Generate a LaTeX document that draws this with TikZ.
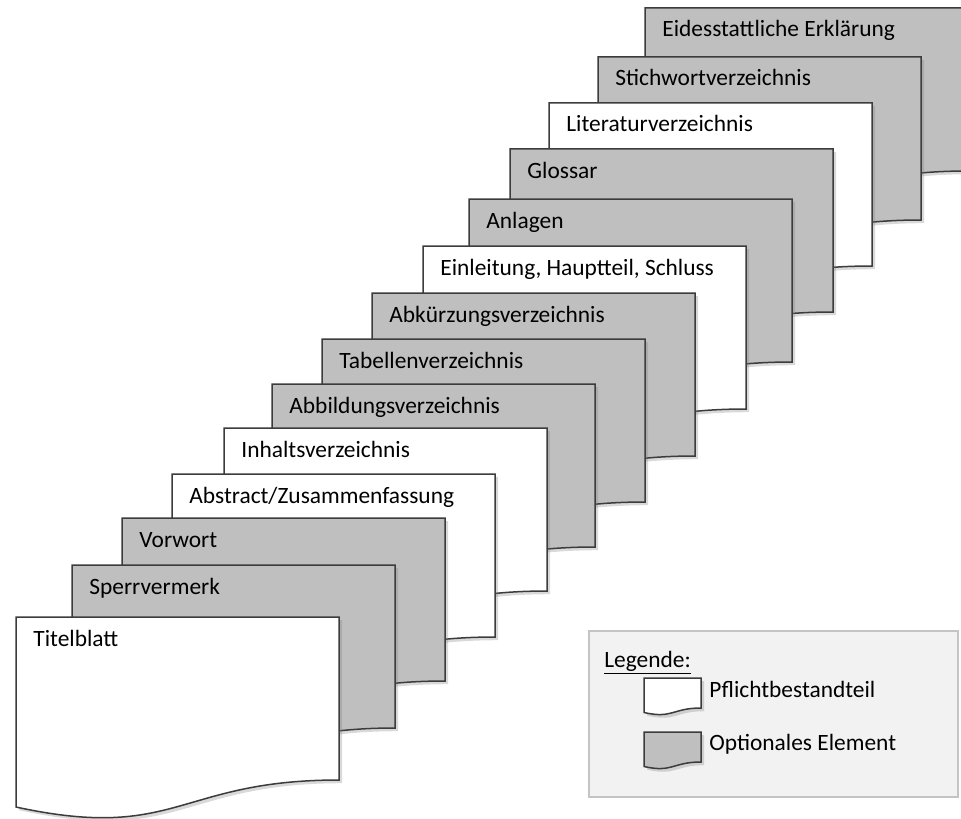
\documentclass[tikz,border=0pt]{standalone}
\usepackage{fontspec}
\setmainfont{Carlito}
\usetikzlibrary{shadows}
\definecolor{optgray}{HTML}{BFBFBF}
\definecolor{edgegray}{HTML}{3C3C3C}
\definecolor{legendfill}{HTML}{F2F2F2}
\definecolor{legendedge}{HTML}{C4C4C4}
\tikzset{x=0.5pt, y=0.5pt}
\tikzset{page/.style={draw=edgegray, line width=0.75pt,
    drop shadow={opacity=0.3, shadow xshift=1.6pt, shadow yshift=-1.6pt}}}
\tikzset{lbl/.style={anchor=base west, inner sep=0pt, font=\fontsize{11.7}{13}\selectfont}}
\tikzset{pics/sheet/.style n args={2}{code={
    \draw[page, fill=#1] (0,0) -- (323,0) -- (323,-163)
      .. controls (161.5,-163) and (161.5,-225) .. (0,-190) -- cycle;
    \node[lbl] (-txt) at (17,-29) {#2};
}}}
\tikzset{pics/key/.style={code={
    \draw[page, fill=#1] (0,0) -- (57,0) -- (57,-30)
      .. controls (28.5,-30) and (28.5,-41) .. (0,-34.5) -- cycle;
}}}
\tikzstyle{legendbox}=[draw=legendedge, fill=legendfill, line width=0.6pt, inner sep=0pt, minimum width=184.5pt, minimum height=83pt]

\begin{document}
\begin{tikzpicture}
  \clip (0,0) rectangle (961,-818);

  \pic (s_14) at (645,-8)   {sheet={optgray}{Eidesstattliche Erklärung}};
  \pic (s_13) at (598,-57)  {sheet={optgray}{Stichwortverzeichnis}};
  \pic (s_12) at (549,-103) {sheet={white}{Literaturverzeichnis}};
  \pic (s_11) at (510,-149) {sheet={optgray}{Glossar}};
  \pic (s_10) at (469,-199) {sheet={optgray}{Anlagen}};
  \pic (s_9)  at (423,-246) {sheet={white}{Einleitung, Hauptteil, Schluss}};
  \pic (s_8)  at (372,-293) {sheet={optgray}{Abkürzungsverzeichnis}};
  \pic (s_7)  at (322,-339) {sheet={optgray}{Tabellenverzeichnis}};
  \pic (s_6)  at (272,-384) {sheet={optgray}{Abbildungsverzeichnis}};
  \pic (s_5)  at (224,-428) {sheet={white}{Inhaltsverzeichnis}};
  \pic (s_4)  at (172,-474) {sheet={white}{Abstract/Zusammenfassung}};
  \pic (s_3)  at (122,-518) {sheet={optgray}{Vorwort}};
  \pic (s_2)  at (72,-565)  {sheet={optgray}{Sperrvermerk}};
  \pic (s_1)  at (16,-617)  {sheet={white}{Titelblatt}};

  % Legende
  \node[legendbox] (legend) at (773.5,-714) {};
  \node[lbl] (leg_title) at (604,-667) {\underline{Legende:}};
  \pic (key_w) at (644,-678) {key=white};
  \node[lbl] (leg_w) at (709,-697) {Pflichtbestandteil};
  \pic (key_o) at (644,-732) {key=optgray};
  \node[lbl] (leg_o) at (709,-750) {Optionales Element};
\end{tikzpicture}
\end{document}
